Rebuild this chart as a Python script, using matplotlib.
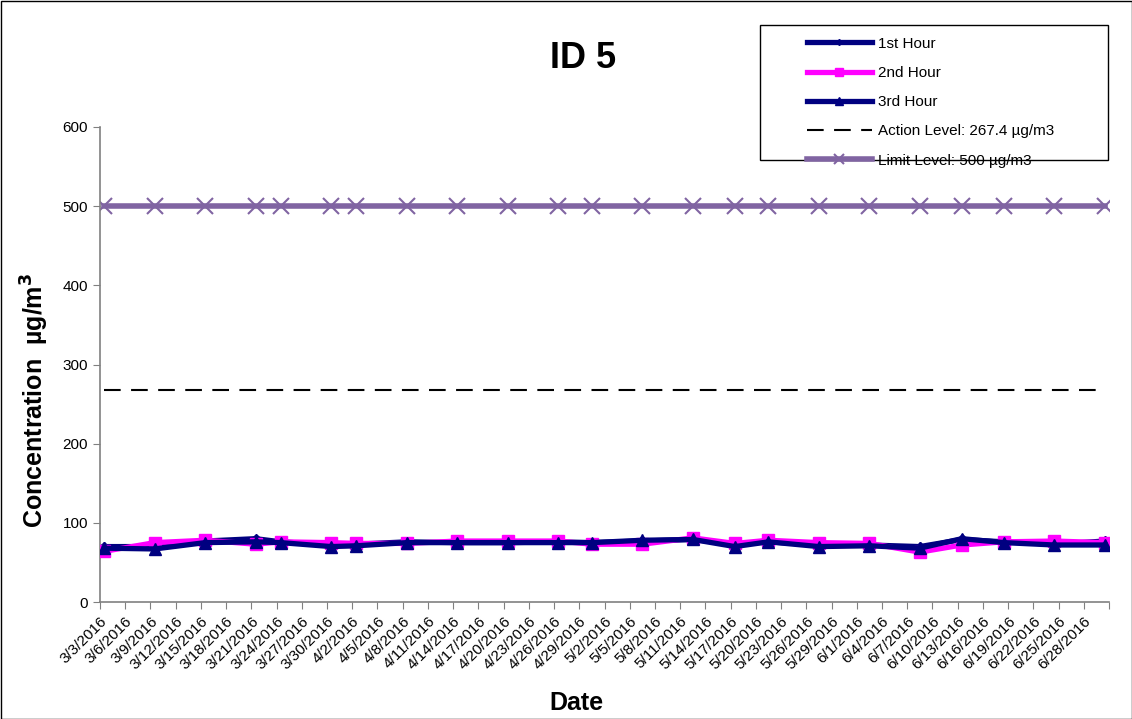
import datetime as dt
import numpy as np
import matplotlib
matplotlib.use("Agg")
import matplotlib.pyplot as plt
from matplotlib.patches import Rectangle

plt.rcParams["font.family"] = ["Liberation Sans", "DejaVu Sans"]

# sample dates and readings (ug/m3)
dates = ["3/3/2016", "3/9/2016", "3/15/2016", "3/21/2016", "3/24/2016", "3/30/2016",
         "4/2/2016", "4/8/2016", "4/14/2016", "4/20/2016", "4/26/2016", "4/30/2016",
         "5/6/2016", "5/12/2016", "5/17/2016", "5/21/2016", "5/27/2016", "6/2/2016",
         "6/8/2016", "6/13/2016", "6/18/2016", "6/24/2016", "6/30/2016"]
hour1 = [70, 70, 77, 80, 76, 72, 73, 76, 75, 75, 76, 75,
         77, 79, 73, 76, 72, 72, 70, 79, 76, 73, 77]
hour2 = [64, 75, 78, 73, 76, 75, 74, 74, 77, 77, 77, 73,
         73, 81, 74, 78, 75, 74, 63, 72, 76, 77, 75]
hour3 = [68, 67, 75, 76, 75, 70, 71, 75, 75, 75, 75, 75,
         78, 79, 70, 76, 70, 71, 68, 80, 75, 72, 72]
action_level = 267.4
limit_level = 500

start = dt.date(2016, 3, 3)
end = dt.date(2016, 7, 1)
days = [(dt.datetime.strptime(d, "%m/%d/%Y").date() - start).days + 0.5 for d in dates]
n_days = (end - start).days

fig = plt.figure(figsize=(11.32, 7.19), dpi=100)
ax = fig.add_axes([100/1132, 117/719, 1009/1132, 475/719])

ax.plot(days, [limit_level]*len(days), color="#8064A2", lw=4, marker="x", ms=12, mew=1.5,
        label="Limit Level: 500 \u00b5g/m3", zorder=2)
ax.plot([days[0], days[-1]], [action_level]*2, color="black", lw=1.5, dashes=(8, 5),
        label="Action Level: 267.4 \u00b5g/m3", zorder=2)
ax.plot(days, hour1, color="#000080", lw=3.8, marker="D", ms=5, label="1st Hour", zorder=3)
ax.plot(days, hour2, color="#FF00FF", lw=3.8, marker="s", ms=9, label="2nd Hour", zorder=4)
ax.plot(days, hour3, color="#000080", lw=3.8, marker="^", ms=9, label="3rd Hour", zorder=5)

ax.set_xlim(0, n_days)
ax.set_ylim(0, 600)
ax.set_yticks(np.arange(0, 601, 100))
ticks = list(range(0, n_days + 1, 3))
ax.set_xticks(ticks)
labels = []
for t in ticks:
    d = start + dt.timedelta(days=t)
    labels.append("" if t == n_days else f"{d.month}/{d.day}/{d.year}")
ax.set_xticklabels(labels, rotation=45, ha="right", rotation_mode="anchor", fontsize=11)
ax.tick_params(axis="y", labelsize=11)
ax.tick_params(direction="out", length=5, color="#808080")

for s in ["top", "right"]:
    ax.spines[s].set_visible(False)
for s in ["left", "bottom"]:
    ax.spines[s].set_color("#808080")
    ax.spines[s].set_linewidth(1.2)

ax.set_xlabel("Date", fontsize=18, fontweight="bold")
ax.xaxis.set_label_coords(476/1009, -(703 - 602)/475)
ax.xaxis.label.set_va("center")
ax.set_ylabel("Concentration  \u00b5g/m$^\\mathbf{3}$", fontsize=18, fontweight="bold")
ax.yaxis.set_label_coords(-(100 - 35)/1009, (602 - 400)/475)
ax.yaxis.label.set_va("center")
fig.text(583/1132, 1 - 58/719, "ID 5", fontsize=26, fontweight="bold", ha="center", va="center")

handles, lbls = ax.get_legend_handles_labels()
order = [2, 3, 4, 1, 0]
leg = fig.legend([handles[i] for i in order], [lbls[i] for i in order],
                 loc="upper left", bbox_to_anchor=(799/1132, 1 - 29/719),
                 frameon=False, fontsize=11, handlelength=4.3, handletextpad=0.4,
                 labelspacing=1.0, borderpad=0, markerscale=0.6)
fig.patches.append(Rectangle((760/1132, 1 - 160/719), 348/1132, 135/719,
                             transform=fig.transFigure, fill=False, ec="black", lw=1))
fig.patches.append(Rectangle((0.5/1132, 0.5/719), 1 - 1/1132, 1 - 1/719,
                             transform=fig.transFigure, fill=False, ec="black", lw=1))

fig.savefig("out.png", dpi=100)
